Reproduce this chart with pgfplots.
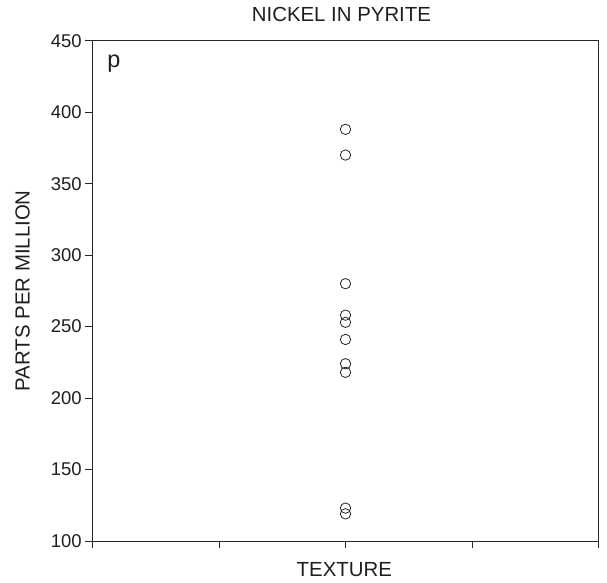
\documentclass[border=0pt]{standalone}
\usepackage{fontspec}
\setmainfont{Liberation Sans}
\usepackage{pgfplots}
\pgfplotsset{compat=1.18}
\begin{document}
\begin{tikzpicture}
\begin{axis}[
  at={(0,0)}, anchor=south west,
  scale only axis, width=506.4pt, height=500.3pt,
  xmin=0, xmax=4, ymin=100, ymax=450,
  xtick={0,1,2,3,4}, xticklabels={},
  ytick={100,150,...,450},
  tick align=outside, xtick pos=bottom, ytick pos=left,
  major tick length=7pt,
  axis line style={black!85, line width=0.8pt},
  tick style={black!85, line width=0.8pt},
  /pgf/number format/assume math mode=true,
  ticklabel style={font=\fontsize{18.5}{20}\selectfont, text=black!88},
  title={NICKEL IN PYRITE},
  title style={at={(axis description cs:0.492,1)}, anchor=base, yshift=13.4pt, font=\fontsize{20.4}{22}\selectfont, text=black!88},
  xlabel={TEXTURE},
  xlabel style={at={(axis description cs:0.4977,0)}, anchor=base, yshift=-35pt, font=\fontsize{20.4}{22}\selectfont, text=black!88},
  ylabel={PARTS PER MILLION},
  ylabel style={at={(axis description cs:-0.1378,0.5)}, anchor=center, font=\fontsize{20.4}{22}\selectfont, text=black!88},
]
\addplot[only marks, mark=o, mark size=5.2pt, black!85, line width=0.8pt] coordinates {
  (2,388) (2,370) (2,280) (2,258) (2,253) (2,241) (2,224) (2,218) (2,123) (2,119)
};
\node[anchor=base west, font=\fontsize{23.4}{25}\selectfont, text=black!88, inner sep=0pt] at (axis description cs:0.0296,0.946) {p};
\end{axis}
\pgfresetboundingbox
\path (-92.3pt,-41pt) rectangle (514.7pt,541pt);
\end{tikzpicture}
\end{document}
